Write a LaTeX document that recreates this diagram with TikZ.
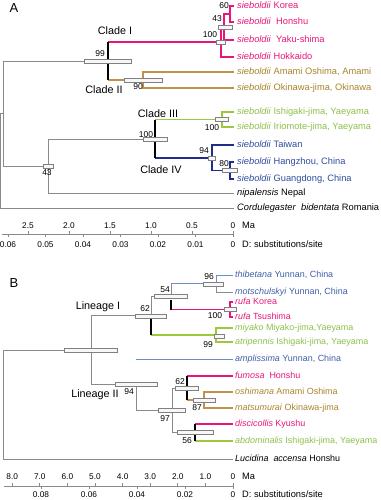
\documentclass[tikz,border=0pt]{standalone}
\usepackage{fontspec}
\setmainfont{Liberation Sans}
\usetikzlibrary{positioning}
\definecolor{pinkc}{HTML}{E8157A}
\definecolor{brownc}{HTML}{C0914A}
\definecolor{brownt}{HTML}{A8832A}
\definecolor{greenc}{HTML}{9DC83A}
\definecolor{greent}{HTML}{8CC04A}
\definecolor{navyc}{HTML}{1F2E8A}
\definecolor{navyt}{HTML}{2F4C9E}
\definecolor{bluec}{HTML}{6F8CC6}
\definecolor{bluet}{HTML}{3E5EA8}
\definecolor{greyc}{HTML}{8A8A8A}

\begin{document}
\begin{tikzpicture}[x=1pt,y=-1pt]
\tikzstyle{br}=[draw=greyc, line width=0.8pt]
\tikzstyle{cbr}=[line width=1.5pt]
\tikzstyle{blk}=[draw=black, line width=1.9pt]
\tikzstyle{hpd}=[draw=gray, fill=gray!6, line width=0.5pt, minimum height=4pt, inner sep=0pt, rectangle]
\tikzstyle{bs}=[font=\fontsize{8.5}{9}\selectfont, inner sep=0pt]
\tikzstyle{lf}=[font=\fontsize{9.3}{11}\selectfont, inner sep=0pt, text height=7pt, text depth=2pt, right=3pt]
\tikzstyle{lfb}=[lf, font=\fontsize{8.95}{11}\selectfont, right=2pt]
\tikzstyle{cl}=[font=\fontsize{10.8}{12}\selectfont, inner sep=0pt]
\tikzstyle{ax}=[font=\fontsize{8.3}{9}\selectfont, inner sep=0pt]
\tikzstyle{pl}=[font=\fontsize{13}{14}\selectfont, inner sep=0pt]

\useasboundingbox (0,0) rectangle (380,500);

% ---------------- A ----------------
\node[pl] (pA) at (14,8) {A};

% leaves
\coordinate (kor) at (234,6);
\coordinate (hon) at (234,22);
\coordinate (yak) at (234,40);
\coordinate (hok) at (234,57);
\coordinate (ama) at (234,72);
\coordinate (oki) at (234,88);
\coordinate (ish) at (234,112);
\coordinate (iri) at (234,127);
\coordinate (tai) at (234,145);
\coordinate (han) at (234,162);
\coordinate (gua) at (234,179);
\coordinate (nip) at (234,193);
\coordinate (cor) at (234,208);
% internal nodes
\coordinate (n60) at (230,14);
\coordinate (n43a) at (224,27);
\coordinate (n100a) at (221,42);
\coordinate (n90) at (143,80);
\coordinate (n99) at (108,61);
\coordinate (n100g) at (222,119.5);
\coordinate (n80) at (230,170.5);
\coordinate (n94) at (212,157.75);
\coordinate (n100b) at (155,138.9);
\coordinate (n43b) at (48,166);
\coordinate (ing) at (3,113.5);
\coordinate (rA) at (0,160.75);

% grey backbone
\draw[br] (rA) |- (ing) (rA) |- (cor);
\draw[br] (ing) |- (n99) (ing) |- (n43b);
\draw[br] (n43b) |- (n100b) (n43b) |- (nip);
% clade I
\draw[cbr, pinkc] (n99 |- n100a) -- (n100a);
\draw[cbr, pinkc] (n100a) |- (n43a) (n100a) |- (hok);
\draw[cbr, pinkc] (n43a) |- (n60) (n43a) |- (yak);
\draw[cbr, pinkc] (n60) |- (kor) (n60) |- (hon);
% clade II
\draw[cbr, brownc] (n99 |- n90) -- (n90);
\draw[cbr, brownc] (n90) |- (ama) (n90) |- (oki);
\draw[blk] (n99 |- n100a) -- (n99 |- n90);
% clade III
\draw[cbr, greenc] (n100b |- n100g) -- (n100g);
\draw[cbr, greenc] (n100g) |- (ish) (n100g) |- (iri);
% clade IV
\draw[cbr, navyc] (n100b |- n94) -- (n94);
\draw[cbr, navyc] (n94) |- (tai) (n94) |- (n80);
\draw[cbr, navyc] (n80) |- (han) (n80) |- (gua);
\draw[blk] (n100b |- n100g) -- (n100b |- n94);

% hpd bars
\node[hpd, minimum width=47pt] (h99) at (n99) {};
\node[hpd, minimum width=38pt] (h90) at (n90) {};
\node[hpd, minimum width=24pt] (h100b) at (n100b) {};
\node[hpd, minimum width=10pt] (h43b) at (n43b) {};
\node[hpd, minimum width=7pt] (h94) at (n94) {};
\node[hpd, minimum width=15pt] (h80) at (n80) {};
\node[hpd, minimum width=9pt] (h100a) at (n100a) {};
\node[hpd, minimum width=14pt] (h43a) at (225,27) {};
\node[hpd, minimum width=13pt] (h100g) at (n100g) {};

% support values
\node[bs] (s60) at (224,6) {60};
\node[bs] (s43a) at (217,19) {43};
\node[bs] (s100a) at (210,35) {100};
\node[bs] (s99) at (100,54) {99};
\node[bs] (s90) at (138,87) {90};
\node[bs] (s100g) at (212,128) {100};
\node[bs] (s100b) at (146,135) {100};
\node[bs] (s94) at (204,151) {94};
\node[bs] (s80) at (224,164) {80};
\node[bs] (s43b) at (47,173) {43};

% clade names
\node[cl] (cI) at (115,31) {Clade I};
\node[cl] (cII) at (104,90) {Clade II};
\node[cl] (cIII) at (158,114) {Clade III};
\node[cl] (cIV) at (161,170) {Clade IV};

% taxa
\node[lf, pinkc] (tkor) at (kor) {\textit{sieboldii} Korea};
\node[lf, pinkc] (thon) at (hon) {\textit{sieboldii}\ \ Honshu};
\node[lf, pinkc] (tyak) at (yak) {\textit{sieboldii}\ \ Yaku-shima};
\node[lf, pinkc] (thok) at (hok) {\textit{sieboldii} Hokkaido};
\node[lf, brownt] (tama) at (ama) {\textit{sieboldii} Amami Oshima, Amami};
\node[lf, brownt] (toki) at (oki) {\textit{sieboldii} Okinawa-jima, Okinawa};
\node[lf, greent] (tish) at (ish) {\textit{sieboldii} Ishigaki-jima, Yaeyama};
\node[lf, greent] (tiri) at (iri) {\textit{sieboldii} Iriomote-jima, Yaeyama};
\node[lf, navyt] (ttai) at (tai) {\textit{sieboldii} Taiwan};
\node[lf, navyt] (than) at (han) {\textit{sieboldii} Hangzhou, China};
\node[lf, navyt] (tgua) at (gua) {\textit{sieboldii} Guangdong, China};
\node[lf] (tnip) at (nip) {\textit{nipalensis} Nepal};
\node[lf] (tcor) at (cor) {\textit{Cordulegaster}\ \ \textit{bidentata} Romania};

% time / distance axis
\coordinate (axA0) at (2,234);
\coordinate (axA1) at (233,234);
\draw[br] (axA0) -- (axA1);
\foreach \m in {2.5,2.0,1.5,1.0,0.5,0}{
  \draw[br] ({233-82*\m},234) -- ++(0,-3);
  \node[ax] at ({233-82*\m},226) {\m};
}
\foreach \d in {0.06,0.05,0.04,0.03,0.02,0.01,0}{
  \draw[br] ({233-3750*\d},234) -- ++(0,3);
  \node[ax] at ({233-3750*\d},245) {\d};
}
\node[lf] (maA) at (239,226) {Ma};
\node[lf] (dA) at (239,245) {D: substitutions/site};

% ---------------- B ----------------
\node[pl] (pB) at (14,283) {B};

% leaves
\coordinate (thi) at (233,275);
\coordinate (mot) at (233,292);
\coordinate (rko) at (233,302);
\coordinate (rts) at (233,317);
\coordinate (miy) at (233,328);
\coordinate (atr) at (233,342);
\coordinate (amp) at (233,359);
\coordinate (fum) at (233,376);
\coordinate (osh) at (233,392);
\coordinate (mat) at (233,408);
\coordinate (dis) at (233,424);
\coordinate (abd) at (233,441);
\coordinate (luc) at (233,459);
% internal nodes
\coordinate (n96) at (216,283.5);
\coordinate (n100r) at (230,309.5);
\coordinate (n54) at (171,296.5);
\coordinate (n99b) at (216,335);
\coordinate (n62a) at (151,315.75);
\coordinate (n87) at (204,400);
\coordinate (n62b) at (187,388);
\coordinate (n56) at (195,432.5);
\coordinate (n97) at (172,410.25);
\coordinate (n94b) at (136,384.6);
\coordinate (nL) at (91,350.2);
\coordinate (rB) at (3,404.6);

% grey backbone
\draw[br] (rB) |- (nL) (rB) |- (luc);
\draw[br] (nL) |- (n62a) (nL) |- (n94b);
\draw[br] (n62a) |- (n54);
\draw[br] (n54) |- (n96);
\draw[br] (n96) |- (mot);
\draw[br] (n94b) |- (n97);
\draw[br] (n97) |- (n62b) (n97) |- (n56);
% lineage I
\draw[line width=1pt, bluec] (n54 |- n96) -- (n96);
\draw[line width=1pt, bluec] (n96) |- (thi);
\draw[cbr, pinkc] (n54 |- n100r) -- (n100r);
\draw[cbr, pinkc] (n100r) |- (rko) (n100r) |- (rts);
\draw[blk] (n54) ++(0,3) -- (n54 |- n100r);
\draw[cbr, greenc] (n62a |- n99b) -- (n99b);
\draw[cbr, greenc] (n99b) |- (miy) (n99b) |- (atr);
\draw[blk] (n62a) -- (n62a |- n99b);
% lineage II
\draw[line width=1pt, bluec] (n94b |- amp) -- (amp);
\draw[cbr, pinkc] (n62b |- fum) -- (fum);
\draw[cbr, brownc] (n62b |- n87) -- (n87);
\draw[cbr, brownc] (n87) |- (osh) (n87) |- (mat);
\draw[blk] (n62b |- fum) -- (n62b |- n87);
\draw[cbr, pinkc] (n56 |- dis) -- (dis);
\draw[cbr, greenc] (n56 |- abd) -- (abd);
\draw[blk] (n56 |- dis) -- (n56 |- abd);

% hpd bars
\node[hpd, minimum width=53pt] (hL) at (nL) {};
\node[hpd, minimum width=31pt] (h62a) at (n62a) {};
\node[hpd, minimum width=33pt] (h54) at (n54) {};
\node[hpd, minimum width=20pt] (h96) at (213,284) {};
\node[hpd, minimum width=12pt] (h100r) at (n100r) {};
\node[hpd, minimum width=10pt] (h99b) at (219,336) {};
\node[hpd, minimum width=42pt] (h94b) at (n94b) {};
\node[hpd, minimum width=27pt] (h97) at (n97) {};
\node[hpd, minimum width=23pt] (h62b) at (n62b) {};
\node[hpd, minimum width=22pt] (h87) at (n87) {};
\node[hpd, minimum width=36pt] (h56) at (n56) {};

% support values
\node[bs] (s96) at (209,277) {96};
\node[bs] (s54) at (165,290) {54};
\node[bs] (s100r) at (215,316) {100};
\node[bs] (s62a) at (145,309) {62};
\node[bs] (s99b) at (208,345) {99};
\node[bs] (s94b) at (129,392) {94};
\node[bs] (s97) at (165,419) {97};
\node[bs] (s62b) at (180,382) {62};
\node[bs] (s87) at (197,408) {87};
\node[bs] (s56) at (187,441) {56};

% lineage names
\node[cl] (lI) at (98,307) {Lineage I};
\node[cl] (lII) at (95,395) {Lineage II};

% taxa
\node[lfb, bluet] (tthi) at (thi) {\textit{thibetana} Yunnan, China};
\node[lfb, bluet] (tmot) at (mot) {\textit{motschulskyi} Yunnan, China};
\node[lfb, pinkc] (trko) at (rko) {\textit{rufa} Korea};
\node[lfb, pinkc] (trts) at (rts) {\textit{rufa} Tsushima};
\node[lfb, greent] (tmiy) at (miy) {\textit{miyako} Miyako-jima,Yaeyama};
\node[lfb, greent] (tatr) at (atr) {\textit{atripennis} Ishigaki-jima, Yaeyama};
\node[lfb, bluet] (tamp) at (amp) {\textit{amplissima} Yunnan, China};
\node[lfb, pinkc] (tfum) at (fum) {\textit{fumosa}\ \ Honshu};
\node[lfb, brownt] (tosh) at (osh) {\textit{oshimana} Amami Oshima};
\node[lfb, brownt] (tmat) at (mat) {\textit{matsumurai} Okinawa-jima};
\node[lfb, pinkc] (tdis) at (dis) {\textit{discicollis} Kyushu};
\node[lfb, greent] (tabd) at (abd) {\textit{abdominalis} Ishigaki-jima, Yaeyama};
\node[lfb] (tluc) at (luc) {\textit{Lucidina}\ \ \textit{accensa} Honshu};

% time / distance axis
\coordinate (axB0) at (4,486);
\coordinate (axB1) at (233,486);
\draw[br] (axB0) -- (axB1);
\foreach \m in {8.0,7.0,6.0,5.0,4.0,3.0,2.0,1.0,0}{
  \draw[br] ({233-27.6*\m},486) -- ++(0,-3);
  \node[ax] at ({233-27.6*\m},477) {\m};
}
\foreach \d in {0.08,0.06,0.04,0.02,0}{
  \draw[br] ({233-2400*\d},486) -- ++(0,3);
  \node[ax] at ({233-2400*\d},495) {\d};
}
\node[lf] (maB) at (239,477) {Ma};
\node[lf] (dB) at (239,495) {D: substitutions/site};
\end{tikzpicture}
\end{document}
